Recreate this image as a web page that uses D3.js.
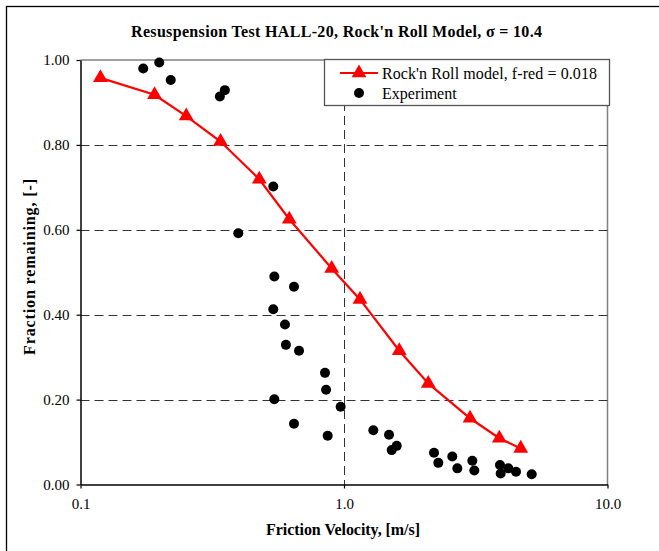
<!DOCTYPE html>
<html>
<head>
<meta charset="utf-8">
<script src="https://cdn.jsdelivr.net/npm/d3@7"></script>
<style>
  html, body { margin: 0; padding: 0; background: #fff; }
  svg { display: block; }
  text { font-family: "Liberation Serif", "Times New Roman", serif; fill: #000; }
</style>
</head>
<body>
<svg id="chart" width="659" height="551"></svg>
<script>
// Rock'n Roll model curve (friction velocity [m/s], fraction remaining)
const modelVelocity = [0.119, 0.191, 0.252, 0.340, 0.477, 0.620, 0.898, 1.150, 1.621, 2.089, 3.008, 3.886, 4.685];
const modelFraction = [0.958, 0.918, 0.868, 0.808, 0.719, 0.625, 0.509, 0.436, 0.315, 0.238, 0.156, 0.109, 0.085];

// Measured points
const expVelocity = [0.173, 0.199, 0.220, 0.338, 0.353, 0.539, 0.397, 0.544, 0.646, 0.539, 0.597, 0.602, 0.675,
                     0.847, 0.855, 0.544, 0.971, 0.646, 0.867, 1.292, 1.482, 1.585, 1.517, 2.196, 2.280, 2.576,
                     2.692, 3.069, 3.123, 3.908, 3.932, 4.203, 4.496, 5.157];
const expFraction = [0.980, 0.994, 0.953, 0.914, 0.929, 0.702, 0.592, 0.490, 0.466, 0.413, 0.377, 0.329, 0.315,
                     0.263, 0.223, 0.201, 0.183, 0.143, 0.115, 0.128, 0.117, 0.091, 0.081, 0.075, 0.051, 0.066,
                     0.038, 0.056, 0.033, 0.046, 0.026, 0.038, 0.030, 0.024];

const xTicks = [0.1, 1, 10];
const yTicks = [0, 0.2, 0.4, 0.6, 0.8, 1.0];

const titleText = "Resuspension Test HALL-20, Rock'n Roll Model, \u03c3 = 10.4";
const xLabel = "Friction Velocity, [m/s]";
const yLabel = "Fraction remaining, [-]";
const legendModel = "Rock'n Roll model, f-red = 0.018";
const legendExp = "Experiment";

const svg = d3.select("#chart");

// outer chart frame
svg.append("rect")
  .attr("x", 6.5).attr("y", 6.5).attr("width", 700).attr("height", 600)
  .attr("fill", "#fff").attr("stroke", "#000").attr("stroke-width", 1.3);

const plot = { left: 80.5, right: 607.5, top: 60, bottom: 484.5 };

const x = d3.scaleLog().domain([0.1, 10]).range([plot.left, plot.right]);
const y = d3.scaleLinear().domain([0, 1]).range([plot.bottom, plot.top]);

// plot area border (grey top and right)
svg.append("path")
  .attr("d", `M${plot.left},${plot.top}H${plot.right}V${plot.bottom}`)
  .attr("fill", "none").attr("stroke", "#808080").attr("stroke-width", 1.5);

// dashed gridlines
const grid = svg.append("g").attr("stroke", "#333").attr("stroke-width", 1)
  .attr("stroke-dasharray", "9,5");
grid.selectAll("line.h").data(yTicks.filter(d => d > 0 && d < 1)).join("line")
  .attr("class", "h")
  .attr("x1", plot.left).attr("x2", plot.right)
  .attr("y1", d => Math.round(y(d)) + 0.5).attr("y2", d => Math.round(y(d)) + 0.5);
grid.selectAll("line.v").data([1]).join("line")
  .attr("class", "v")
  .attr("x1", d => Math.round(x(d)) + 0.5).attr("x2", d => Math.round(x(d)) + 0.5)
  .attr("y1", plot.top).attr("y2", plot.bottom);

// axes
const xAxis = d3.axisBottom(x).tickValues(xTicks).tickSizeInner(4).tickSizeOuter(0)
  .tickPadding(10).tickFormat(d3.format(".1f"));
const yAxis = d3.axisLeft(y).tickValues(yTicks).tickSizeInner(4).tickSizeOuter(0)
  .tickPadding(7).tickFormat(d3.format(".2f"));

const gx = svg.append("g").attr("transform", `translate(0,${plot.bottom})`).call(xAxis);
const gy = svg.append("g").attr("transform", `translate(${plot.left},0)`).call(yAxis);
[gx, gy].forEach(g => {
  g.select(".domain").attr("stroke", "#000").attr("stroke-width", 1.5);
  g.selectAll(".tick line").attr("stroke", "#000").attr("stroke-width", 1.2);
  g.selectAll(".tick text").attr("font-family", "Liberation Serif").attr("font-size", 15).attr("fill", "#000");
});

// model curve
const line = d3.line().x(d => x(d[0])).y(d => y(d[1]));
const modelData = modelVelocity.map((v, i) => [v, modelFraction[i]]);
svg.append("path").datum(modelData)
  .attr("d", line).attr("fill", "none").attr("stroke", "#ff0000").attr("stroke-width", 2.2);

const tri = d3.symbol().type(d3.symbolTriangle).size(95);
svg.append("g").selectAll("path").data(modelData).join("path")
  .attr("d", tri)
  .attr("transform", d => `translate(${x(d[0])},${y(d[1])})`)
  .attr("fill", "#ff0000");

// measured points
const expData = expVelocity.map((v, i) => [v, expFraction[i]]);
svg.append("g").selectAll("circle").data(expData).join("circle")
  .attr("cx", d => x(d[0])).attr("cy", d => y(d[1])).attr("r", 5)
  .attr("fill", "#000");

// legend
const lg = svg.append("g");
lg.append("rect").attr("x", 324.5).attr("y", 59.5).attr("width", 285).attr("height", 46)
  .attr("fill", "#fff").attr("stroke", "#555").attr("stroke-width", 1.3);
lg.append("line").attr("x1", 340).attr("x2", 378).attr("y1", 73).attr("y2", 73)
  .attr("stroke", "#ff0000").attr("stroke-width", 2.2);
lg.append("path").attr("d", tri).attr("transform", "translate(359,73)").attr("fill", "#ff0000");
lg.append("circle").attr("cx", 359).attr("cy", 93).attr("r", 5).attr("fill", "#000");
lg.append("text").attr("x", 382).attr("y", 78.5).attr("font-size", 16)
  .attr("textLength", 215).attr("lengthAdjust", "spacing").text(legendModel);
lg.append("text").attr("x", 382).attr("y", 98.5).attr("font-size", 16).text(legendExp);

// title and axis titles
svg.append("text").attr("x", 336.5).attr("y", 37).attr("text-anchor", "middle")
  .attr("font-size", 16).attr("font-weight", "bold")
  .attr("textLength", 411).attr("lengthAdjust", "spacing").text(titleText);
svg.append("text").attr("x", 343).attr("y", 535).attr("text-anchor", "middle")
  .attr("font-size", 16).attr("font-weight", "bold")
  .attr("textLength", 154).attr("lengthAdjust", "spacing").text(xLabel);
svg.append("text").attr("transform", "translate(35,267) rotate(-90)").attr("text-anchor", "middle")
  .attr("font-size", 16).attr("font-weight", "bold")
  .attr("textLength", 176).attr("lengthAdjust", "spacing").text(yLabel);
</script>
</body>
</html>
